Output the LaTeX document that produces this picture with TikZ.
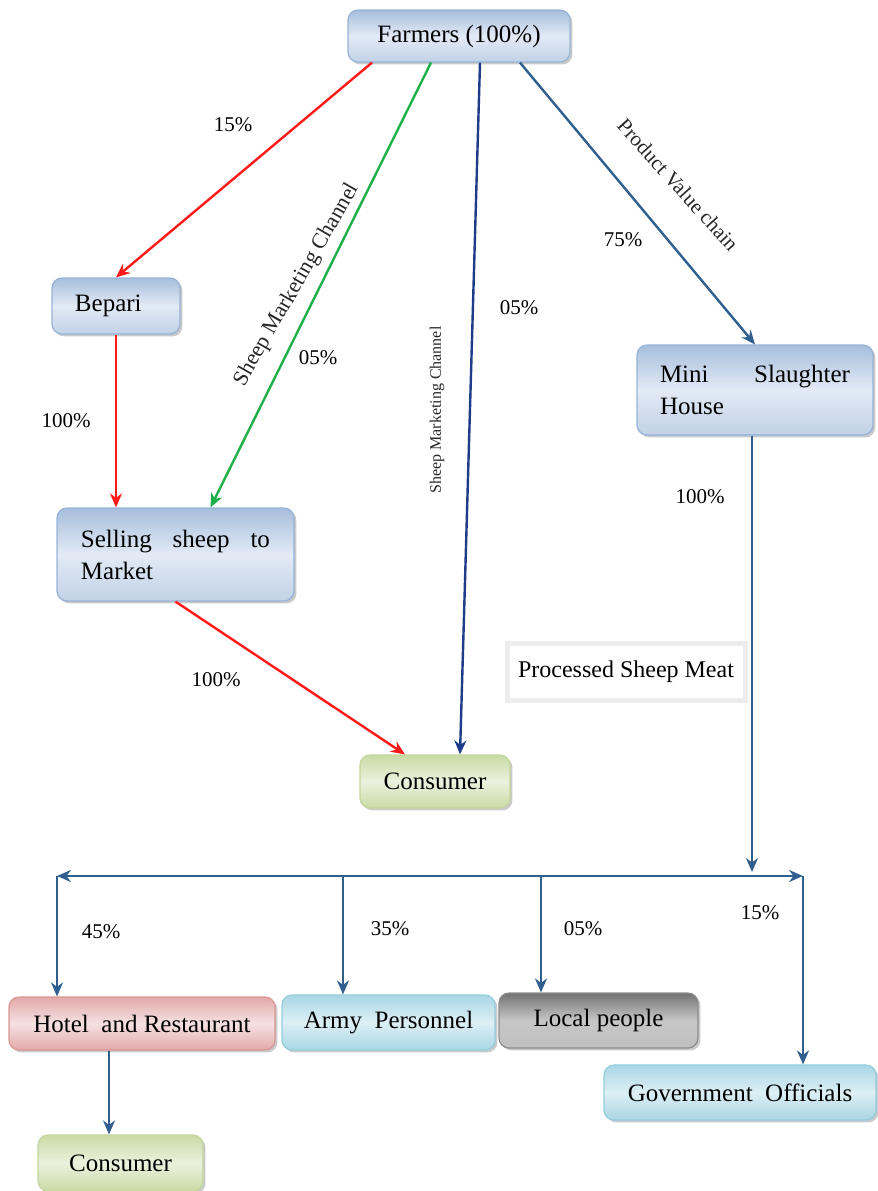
\documentclass[tikz,border=0pt]{standalone}
\usepackage{fontspec}
\setmainfont{Liberation Serif}
\usetikzlibrary{positioning, arrows.meta, shadows, calc}
\definecolor{blueline}{HTML}{95B3D7}
\definecolor{bluedark}{HTML}{A7BEDC}
\definecolor{bluelight}{HTML}{E2EAF5}
\definecolor{greenline}{HTML}{C3D69B}
\definecolor{greendark}{HTML}{C9DBA5}
\definecolor{greenlight}{HTML}{EBF1DE}
\definecolor{pinkline}{HTML}{D99694}
\definecolor{pinkdark}{HTML}{E2AAA9}
\definecolor{pinklight}{HTML}{F5E1E1}
\definecolor{cyanline}{HTML}{93CDDD}
\definecolor{cyandark}{HTML}{A9D6E4}
\definecolor{cyanlight}{HTML}{DDEFF5}
\definecolor{redarrow}{HTML}{FF1A1A}
\definecolor{greenarrow}{HTML}{1DB04B}
\definecolor{navyarrow}{HTML}{1F3C88}
\definecolor{steelarrow}{HTML}{2F5F8F}
\tikzset{
>={Stealth[length=7pt,width=6pt]}, % arrow tips
box/.style={rounded corners=5pt, line width=0.6pt, font=\fontsize{12.5}{16}\selectfont,
  drop shadow={shadow xshift=1.2pt, shadow yshift=-1.2pt, opacity=0.35, fill=black!60}},
bluebox/.style={box, draw=blueline, top color=bluedark, bottom color=bluedark!70!white, middle color=bluelight},
greenbox/.style={box, draw=greenline, top color=greendark, bottom color=greendark, middle color=greenlight},
pinkbox/.style={box, draw=pinkline, top color=pinkdark, bottom color=pinkdark, middle color=pinklight},
cyanbox/.style={box, draw=cyanline, top color=cyandark, bottom color=cyandark, middle color=cyanlight},
graybox/.style={box, draw=black!45, top color=black!55, bottom color=black!25, middle color=black!22},
pct/.style={font=\fontsize{10.5}{12}\selectfont},
chan/.style={font=\fontsize{11}{13}\selectfont, text=black!85},
flow/.style={->, line width=1.2pt},
}

\begin{document}
\begin{tikzpicture}[x=0.5pt, y=-0.5pt]
    \useasboundingbox (0,0) rectangle (878,1191);
    % boxes
    \node[bluebox, minimum width=111pt, minimum height=26pt] (farmers) at (459,36) {Farmers (100\%)};
    \node[bluebox, text width=41pt, inner xsep=11.5pt, minimum height=28pt, align=left] (bepari) at (116,306) {Bepari};
    \node[bluebox, text width=94.5pt, inner xsep=12pt, minimum height=46.5pt, align=left] (selling) at (175.5,554.5) {Selling\hfill sheep\hfill to\\Market};
    \node[bluebox, text width=95pt, inner xsep=11.5pt, minimum height=45pt, align=left] (mini) at (755,390) {Mini\hfill Slaughter\\House};
    \node[greenbox, minimum width=75pt, minimum height=26.5pt] (consumer) at (435,781.5) {Consumer};
    \node[box, rounded corners=0pt, fill=white, draw=black!7, line width=2.5pt, minimum width=119pt, minimum height=28.5pt, font=\fontsize{12}{14}\selectfont] (meat) at (626,671.5) {Processed Sheep Meat};
    \node[pinkbox, minimum width=133pt, minimum height=26.5pt] (hotel) at (142,1023.5) {Hotel\ \ and Restaurant};
    \node[cyanbox, minimum width=106.5pt, minimum height=27.5pt] (army) at (388.5,1022.5) {Army\ \ Personnel};
    \node[graybox, minimum width=99.5pt, minimum height=27.5pt] (local) at (598.5,1020.5) {Local people};
    \node[cyanbox, minimum width=136pt, minimum height=27.5pt] (gov) at (740,1092.5) {Government\ \ Officials};
    \node[greenbox, minimum width=82.5pt, minimum height=28pt] (consumerb) at (120.5,1163) {Consumer};

    % from the farmers
    \draw[flow, redarrow] ($(farmers.south)+(-87,0)$) -- (bepari.north);
    \draw[flow, greenarrow] ($(farmers.south)+(-28,0)$) -- ($(selling.north)+(35,0)$);
    \draw[flow, navyarrow] ($(farmers.south)+(21,0)$) -- ($(consumer.north)+(25,0)$);
    \draw[flow, steelarrow] ($(farmers.south)+(61,0)$) -- (mini.north);
    \draw[flow, redarrow] (bepari.south) -- (bepari.south |- selling.north);
    \draw[flow, redarrow] (selling.south) -- ($(consumer.north)+(-30,0)$);

    % distribution of the meat
    \coordinate (busin) at (752,872);
    \coordinate (busl) at (57,876);
    \coordinate (busr) at (803,876);
    \coordinate (busa) at (343,876);
    \coordinate (busb) at (541,876);
    \draw[flow, steelarrow] (mini.south -| busin) -- (busin);
    \draw[<->, line width=1.2pt, steelarrow] (busl) -- (busr);
    \draw[flow, steelarrow] (busl) -- (busl |- hotel.north);
    \draw[flow, steelarrow] (busa) -- (busa |- army.north);
    \draw[flow, steelarrow] (busb) -- (busb |- local.north);
    \draw[flow, steelarrow] (busr) -- (busr |- gov.north);
    \coordinate (hotelout) at ($(hotel.south)+(-33,0)$);
    \draw[flow, steelarrow] (hotelout) -- (hotelout |- consumerb.north);

    % labels
    \node[pct] at (233,125) {15\%};
    \node[pct] at (318,358) {05\%};
    \node[pct] at (519,308) {05\%};
    \node[pct] at (623,240) {75\%};
    \node[pct] at (66,421) {100\%};
    \node[pct] at (216,680) {100\%};
    \node[pct] at (700,497) {100\%};
    \node[pct] at (101,932) {45\%};
    \node[pct] at (390,929) {35\%};
    \node[pct] at (583,929) {05\%};
    \node[pct] at (760,913) {15\%};
    \node[chan, rotate=60] at (297,285) {Sheep Marketing Channel};
    \node[chan, rotate=90, font=\fontsize{8}{10}\selectfont] at (437,410) {Sheep Marketing Channel};
    \node[chan, rotate=-48, font=\fontsize{10.5}{12}\selectfont] at (678,185) {Product Value chain};
\end{tikzpicture}
\end{document}
